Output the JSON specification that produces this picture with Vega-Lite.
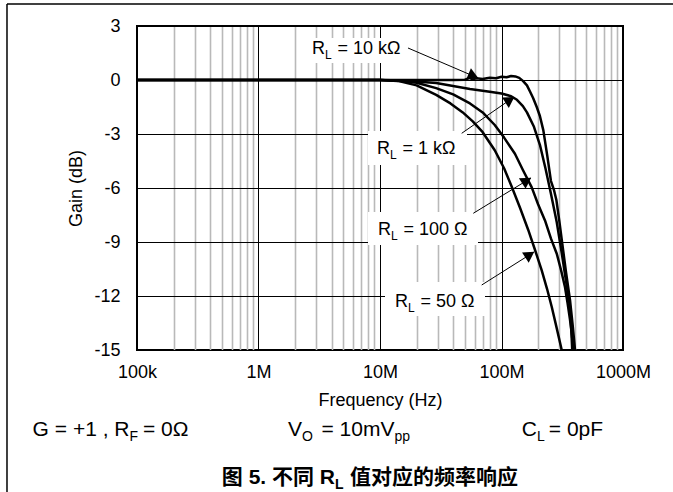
{
  "$schema": "https://vega.github.io/schema/vega-lite/v6.json",
  "width": 486,
  "height": 324,
  "autosize": {"type": "none"},
  "padding": {"left": 137, "top": 26, "right": 50, "bottom": 142},
  "background": "white",
  "config": {
    "view": {"stroke": "black", "strokeWidth": 2},
    "font": "Liberation Sans",
    "text": {"font": "Liberation Sans", "color": "black"},
    "axisX": {
      "titleFont": "Liberation Sans", "titleFontSize": 18, "titleFontWeight": "normal", "titleColor": "black", "titlePadding": 10,
      "labelFont": "Liberation Sans", "labelFontSize": 18, "labelColor": "black", "labelPadding": 13, "labelOverlap": false, "labelFlush": false,
      "ticks": false, "domain": false, "grid": true, "gridOpacity": 1
    },
    "axisY": {
      "titleFont": "Liberation Sans", "titleFontSize": 18, "titleFontWeight": "normal", "titleColor": "black", "titlePadding": 8,
      "labelFont": "Liberation Sans", "labelFontSize": 18, "labelColor": "black", "labelPadding": 17,
      "ticks": false, "domain": false, "grid": true, "gridColor": "black", "gridWidth": 1, "gridOpacity": 1
    }
  },
  "datasets": {
    "curves": [
      {"rl": "50", "f": 100000, "g": 0}, {"rl": "50", "f": 10000000, "g": 0}, {"rl": "50", "f": 14000000, "g": -0.05}, {"rl": "50", "f": 20000000, "g": -0.3}, {"rl": "50", "f": 29000000, "g": -0.83}, {"rl": "50", "f": 38000000, "g": -1.3}, {"rl": "50", "f": 48000000, "g": -1.8}, {"rl": "50", "f": 58000000, "g": -2.3}, {"rl": "50", "f": 70000000, "g": -2.9}, {"rl": "50", "f": 88000000, "g": -3.9}, {"rl": "50", "f": 105000000, "g": -4.9}, {"rl": "50", "f": 121000000, "g": -5.9}, {"rl": "50", "f": 142000000, "g": -7.1}, {"rl": "50", "f": 166000000, "g": -8.33}, {"rl": "50", "f": 190000000, "g": -9.5}, {"rl": "50", "f": 214000000, "g": -10.56}, {"rl": "50", "f": 237000000, "g": -11.6}, {"rl": "50", "f": 259000000, "g": -12.6}, {"rl": "50", "f": 285000000, "g": -13.8}, {"rl": "50", "f": 313000000, "g": -15},
      {"rl": "100", "f": 100000, "g": 0}, {"rl": "100", "f": 10000000, "g": 0}, {"rl": "100", "f": 15000000, "g": -0.05}, {"rl": "100", "f": 20000000, "g": -0.15}, {"rl": "100", "f": 29000000, "g": -0.45}, {"rl": "100", "f": 40000000, "g": -0.8}, {"rl": "100", "f": 55000000, "g": -1.3}, {"rl": "100", "f": 70000000, "g": -1.8}, {"rl": "100", "f": 88000000, "g": -2.5}, {"rl": "100", "f": 105000000, "g": -3.2}, {"rl": "100", "f": 129000000, "g": -4.1}, {"rl": "100", "f": 150000000, "g": -5.0}, {"rl": "100", "f": 177000000, "g": -5.95}, {"rl": "100", "f": 200000000, "g": -6.9}, {"rl": "100", "f": 228000000, "g": -7.8}, {"rl": "100", "f": 255000000, "g": -8.8}, {"rl": "100", "f": 285000000, "g": -9.65}, {"rl": "100", "f": 310000000, "g": -10.6}, {"rl": "100", "f": 333000000, "g": -11.5}, {"rl": "100", "f": 350000000, "g": -12.4}, {"rl": "100", "f": 366000000, "g": -13.3}, {"rl": "100", "f": 380000000, "g": -14.2}, {"rl": "100", "f": 390000000, "g": -15},
      {"rl": "1k", "f": 100000, "g": 0}, {"rl": "1k", "f": 10000000, "g": 0}, {"rl": "1k", "f": 15000000, "g": -0.03}, {"rl": "1k", "f": 29000000, "g": -0.17}, {"rl": "1k", "f": 55000000, "g": -0.5}, {"rl": "1k", "f": 80000000, "g": -0.65}, {"rl": "1k", "f": 100000000, "g": -0.75}, {"rl": "1k", "f": 120000000, "g": -0.9}, {"rl": "1k", "f": 134000000, "g": -1.1}, {"rl": "1k", "f": 150000000, "g": -1.45}, {"rl": "1k", "f": 162000000, "g": -1.8}, {"rl": "1k", "f": 185000000, "g": -2.6}, {"rl": "1k", "f": 207000000, "g": -3.6}, {"rl": "1k", "f": 230000000, "g": -4.9}, {"rl": "1k", "f": 255000000, "g": -6.3}, {"rl": "1k", "f": 285000000, "g": -7.9}, {"rl": "1k", "f": 313000000, "g": -9.6}, {"rl": "1k", "f": 340000000, "g": -11.2}, {"rl": "1k", "f": 366000000, "g": -12.6}, {"rl": "1k", "f": 375000000, "g": -13.8}, {"rl": "1k", "f": 382000000, "g": -15},
      {"rl": "10k", "f": 100000, "g": 0}, {"rl": "10k", "f": 10000000, "g": 0}, {"rl": "10k", "f": 40000000, "g": 0}, {"rl": "10k", "f": 50000000, "g": 0.02}, {"rl": "10k", "f": 55000000, "g": 0.12}, {"rl": "10k", "f": 58000000, "g": 0.02}, {"rl": "10k", "f": 62000000, "g": 0.1}, {"rl": "10k", "f": 70000000, "g": 0.05}, {"rl": "10k", "f": 80000000, "g": 0.12}, {"rl": "10k", "f": 90000000, "g": 0.1}, {"rl": "10k", "f": 100000000, "g": 0.18}, {"rl": "10k", "f": 110000000, "g": 0.15}, {"rl": "10k", "f": 120000000, "g": 0.22}, {"rl": "10k", "f": 130000000, "g": 0.2}, {"rl": "10k", "f": 140000000, "g": 0.12}, {"rl": "10k", "f": 150000000, "g": -0.05}, {"rl": "10k", "f": 162000000, "g": -0.3}, {"rl": "10k", "f": 172000000, "g": -0.65}, {"rl": "10k", "f": 182000000, "g": -1.0}, {"rl": "10k", "f": 195000000, "g": -1.5}, {"rl": "10k", "f": 207000000, "g": -2.0}, {"rl": "10k", "f": 221000000, "g": -2.8}, {"rl": "10k", "f": 238000000, "g": -4.2}, {"rl": "10k", "f": 255000000, "g": -5.6}, {"rl": "10k", "f": 270000000, "g": -6.1}, {"rl": "10k", "f": 283000000, "g": -6.67}, {"rl": "10k", "f": 300000000, "g": -7.9}, {"rl": "10k", "f": 315000000, "g": -9.0}, {"rl": "10k", "f": 340000000, "g": -10.7}, {"rl": "10k", "f": 366000000, "g": -12.2}, {"rl": "10k", "f": 385000000, "g": -13.6}, {"rl": "10k", "f": 403000000, "g": -15}
    ],
    "notes": [
      {"rl": "10k", "label": "= 10 kΩ", "f": 2756000, "g": 1.722, "bx1": 2196000, "bx2": 17000000, "by1": 2.333, "by2": 0.944, "ax1": 17000000, "ay1": 1.778, "ax2": 64050000, "ay2": 0.111, "hx": 58710000, "hy": 0.222},
      {"rl": "1k", "label": "= 1 kΩ", "f": 9447000, "g": -3.833, "bx1": 7964000, "bx2": 52000000, "by1": -2.833, "by2": -4.722, "ax1": 47030000, "ay1": -2.961, "ax2": 126700000, "ay2": -0.944, "hx": 117300000, "hy": -1.103},
      {"rl": "100", "label": "= 100 Ω", "f": 9628000, "g": -8.306, "bx1": 7964000, "bx2": 64050000, "by1": -7.333, "by2": -9.167, "ax1": 58600000, "ay1": -7.406, "ax2": 174900000, "ay2": -5.444, "hx": 161200000, "hy": -5.589},
      {"rl": "50", "label": "= 50 Ω", "f": 13290000, "g": -12.306, "bx1": 10995000, "bx2": 73140000, "by1": -11.222, "by2": -13.111, "ax1": 68720000, "ay1": -11.389, "ax2": 185200000, "ay2": -9.556, "hx": 171000000, "hy": -9.706}
    ],
    "texts": [
      {"grp": "cond", "part": "lead", "text": "G = +1 , R", "f": 86760, "g": -19.444},
      {"grp": "cond", "part": "sub", "text": "F", "f": 86760, "g": -19.444},
      {"grp": "cond", "part": "tail", "text": "= 0Ω", "f": 112000, "g": -19.444},
      {"grp": "cond", "part": "lead", "text": "V", "f": 2280000, "g": -19.444},
      {"grp": "cond", "part": "sub", "text": "O", "f": 2280000, "g": -19.444},
      {"grp": "cond", "part": "lead", "text": "= 10mV", "f": 13161000, "g": -19.444},
      {"grp": "cond", "part": "sub", "text": "pp", "f": 13161000, "g": -19.444},
      {"grp": "cond", "part": "lead", "text": "C", "f": 195950000, "g": -19.444},
      {"grp": "cond", "part": "sub", "text": "L", "f": 195950000, "g": -19.444},
      {"grp": "cond", "part": "tail", "text": "= 0pF", "f": 245000000, "g": -19.444},
      {"grp": "cap", "part": "lead", "text": "图 5. 不同 R", "f": 4262000, "g": -22.111},
      {"grp": "cap", "part": "sub", "text": "L", "f": 4262000, "g": -22.111},
      {"grp": "cap", "part": "tail", "text": "值对应的频率响应", "f": 5664000, "g": -22.111}
    ],
    "frame": [
      {"x1": 8511, "x2": 2579000000, "y1": 4.222, "y2": 4.222},
      {"x1": 8511, "x2": 8511, "y1": 4.222, "y2": -22.89}
    ]
  },
  "layer": [
    {
      "data": {"name": "curves"},
      "mark": {"type": "line", "color": "black", "strokeWidth": 2.5, "strokeJoin": "round"},
      "encoding": {
        "x": {
          "field": "f", "type": "quantitative",
          "scale": {"type": "log", "domain": [100000, 1000000000], "nice": false},
          "axis": {
            "title": "Frequency (Hz)",
            "values": [100000, 200000, 300000, 400000, 500000, 600000, 700000, 800000, 900000, 1000000, 2000000, 3000000, 4000000, 5000000, 6000000, 7000000, 8000000, 9000000, 10000000, 20000000, 30000000, 40000000, 50000000, 60000000, 70000000, 80000000, 90000000, 100000000, 200000000, 300000000, 400000000, 500000000, 600000000, 700000000, 800000000, 900000000, 1000000000],
            "labelExpr": "datum.value == 100000 ? '100k' : datum.value == 1000000 ? '1M' : datum.value == 10000000 ? '10M' : datum.value == 100000000 ? '100M' : datum.value == 1000000000 ? '1000M' : ''",
            "gridColor": {"condition": {"test": "indexof([100000,1000000,10000000,100000000,1000000000], datum.value) >= 0", "value": "black"}, "value": "#b9b9b9"},
            "gridWidth": {"condition": {"test": "indexof([100000,1000000,10000000,100000000,1000000000], datum.value) >= 0", "value": 1}, "value": 1.6}
          }
        },
        "y": {
          "field": "g", "type": "quantitative",
          "scale": {"domain": [-15, 3], "nice": false, "zero": false},
          "axis": {
            "title": "Gain (dB)",
            "values": [-15, -12, -9, -6, -3, 0, 3],
            "labelExpr": "'' + datum.value"
          }
        },
        "detail": {"field": "rl"}
      }
    },
    {
      "data": {"name": "notes"},
      "mark": {"type": "rect", "fill": "white"},
      "encoding": {
        "x": {"field": "bx1", "type": "quantitative"},
        "x2": {"field": "bx2"},
        "y": {"field": "by1", "type": "quantitative"},
        "y2": {"field": "by2"}
      }
    },
    {
      "data": {"name": "notes"},
      "mark": {"type": "rule", "color": "black", "strokeWidth": 1},
      "encoding": {
        "x": {"field": "ax1", "type": "quantitative"},
        "x2": {"field": "ax2"},
        "y": {"field": "ay1", "type": "quantitative"},
        "y2": {"field": "ay2"}
      }
    },
    {
      "data": {"name": "notes"},
      "mark": {"type": "point", "shape": "triangle-up", "filled": true, "color": "black", "opacity": 1, "size": 150},
      "encoding": {
        "x": {"field": "hx", "type": "quantitative"},
        "y": {"field": "hy", "type": "quantitative"},
        "angle": {"condition": {"test": "datum.rl == '10k'", "value": 113}, "value": 57}
      }
    },
    {
      "data": {"name": "notes"},
      "mark": {"type": "text", "text": "R", "align": "left", "baseline": "middle", "fontSize": 18},
      "encoding": {
        "x": {"field": "f", "type": "quantitative"},
        "y": {"field": "g", "type": "quantitative"}
      }
    },
    {
      "data": {"name": "notes"},
      "mark": {"type": "text", "text": "L", "align": "left", "baseline": "middle", "fontSize": 12, "dx": 13, "dy": 6},
      "encoding": {
        "x": {"field": "f", "type": "quantitative"},
        "y": {"field": "g", "type": "quantitative"}
      }
    },
    {
      "data": {"name": "notes"},
      "mark": {"type": "text", "align": "left", "baseline": "middle", "fontSize": 18, "dx": 25.5},
      "encoding": {
        "x": {"field": "f", "type": "quantitative"},
        "y": {"field": "g", "type": "quantitative"},
        "text": {"field": "label"}
      }
    },
    {
      "data": {"name": "texts"},
      "transform": [{"filter": "datum.grp == 'cond' && datum.part == 'lead'"}],
      "mark": {"type": "text", "align": "right", "baseline": "middle", "fontSize": 21},
      "encoding": {
        "x": {"field": "f", "type": "quantitative"},
        "y": {"field": "g", "type": "quantitative"},
        "text": {"field": "text"}
      }
    },
    {
      "data": {"name": "texts"},
      "transform": [{"filter": "datum.grp == 'cond' && datum.part == 'sub'"}],
      "mark": {"type": "text", "align": "left", "baseline": "middle", "fontSize": 14, "dy": 7},
      "encoding": {
        "x": {"field": "f", "type": "quantitative"},
        "y": {"field": "g", "type": "quantitative"},
        "text": {"field": "text"}
      }
    },
    {
      "data": {"name": "texts"},
      "transform": [{"filter": "datum.grp == 'cond' && datum.part == 'tail'"}],
      "mark": {"type": "text", "align": "left", "baseline": "middle", "fontSize": 21},
      "encoding": {
        "x": {"field": "f", "type": "quantitative"},
        "y": {"field": "g", "type": "quantitative"},
        "text": {"field": "text"}
      }
    },
    {
      "data": {"name": "texts"},
      "transform": [{"filter": "datum.grp == 'cap' && datum.part == 'lead'"}],
      "mark": {"type": "text", "align": "right", "baseline": "middle", "fontSize": 21, "fontWeight": "bold", "font": "Liberation Sans, Noto Sans CJK SC"},
      "encoding": {
        "x": {"field": "f", "type": "quantitative"},
        "y": {"field": "g", "type": "quantitative"},
        "text": {"field": "text"}
      }
    },
    {
      "data": {"name": "texts"},
      "transform": [{"filter": "datum.grp == 'cap' && datum.part == 'sub'"}],
      "mark": {"type": "text", "align": "left", "baseline": "middle", "fontSize": 14, "fontWeight": "bold", "dy": 7},
      "encoding": {
        "x": {"field": "f", "type": "quantitative"},
        "y": {"field": "g", "type": "quantitative"},
        "text": {"field": "text"}
      }
    },
    {
      "data": {"name": "texts"},
      "transform": [{"filter": "datum.grp == 'cap' && datum.part == 'tail'"}],
      "mark": {"type": "text", "align": "left", "baseline": "middle", "fontSize": 21, "fontWeight": "bold", "font": "Noto Sans CJK SC"},
      "encoding": {
        "x": {"field": "f", "type": "quantitative"},
        "y": {"field": "g", "type": "quantitative"},
        "text": {"field": "text"}
      }
    },
    {
      "data": {"name": "frame"},
      "mark": {"type": "rule", "color": "black", "strokeWidth": 1.5},
      "encoding": {
        "x": {"field": "x1", "type": "quantitative"},
        "x2": {"field": "x2"},
        "y": {"field": "y1", "type": "quantitative"},
        "y2": {"field": "y2"}
      }
    }
  ]
}
